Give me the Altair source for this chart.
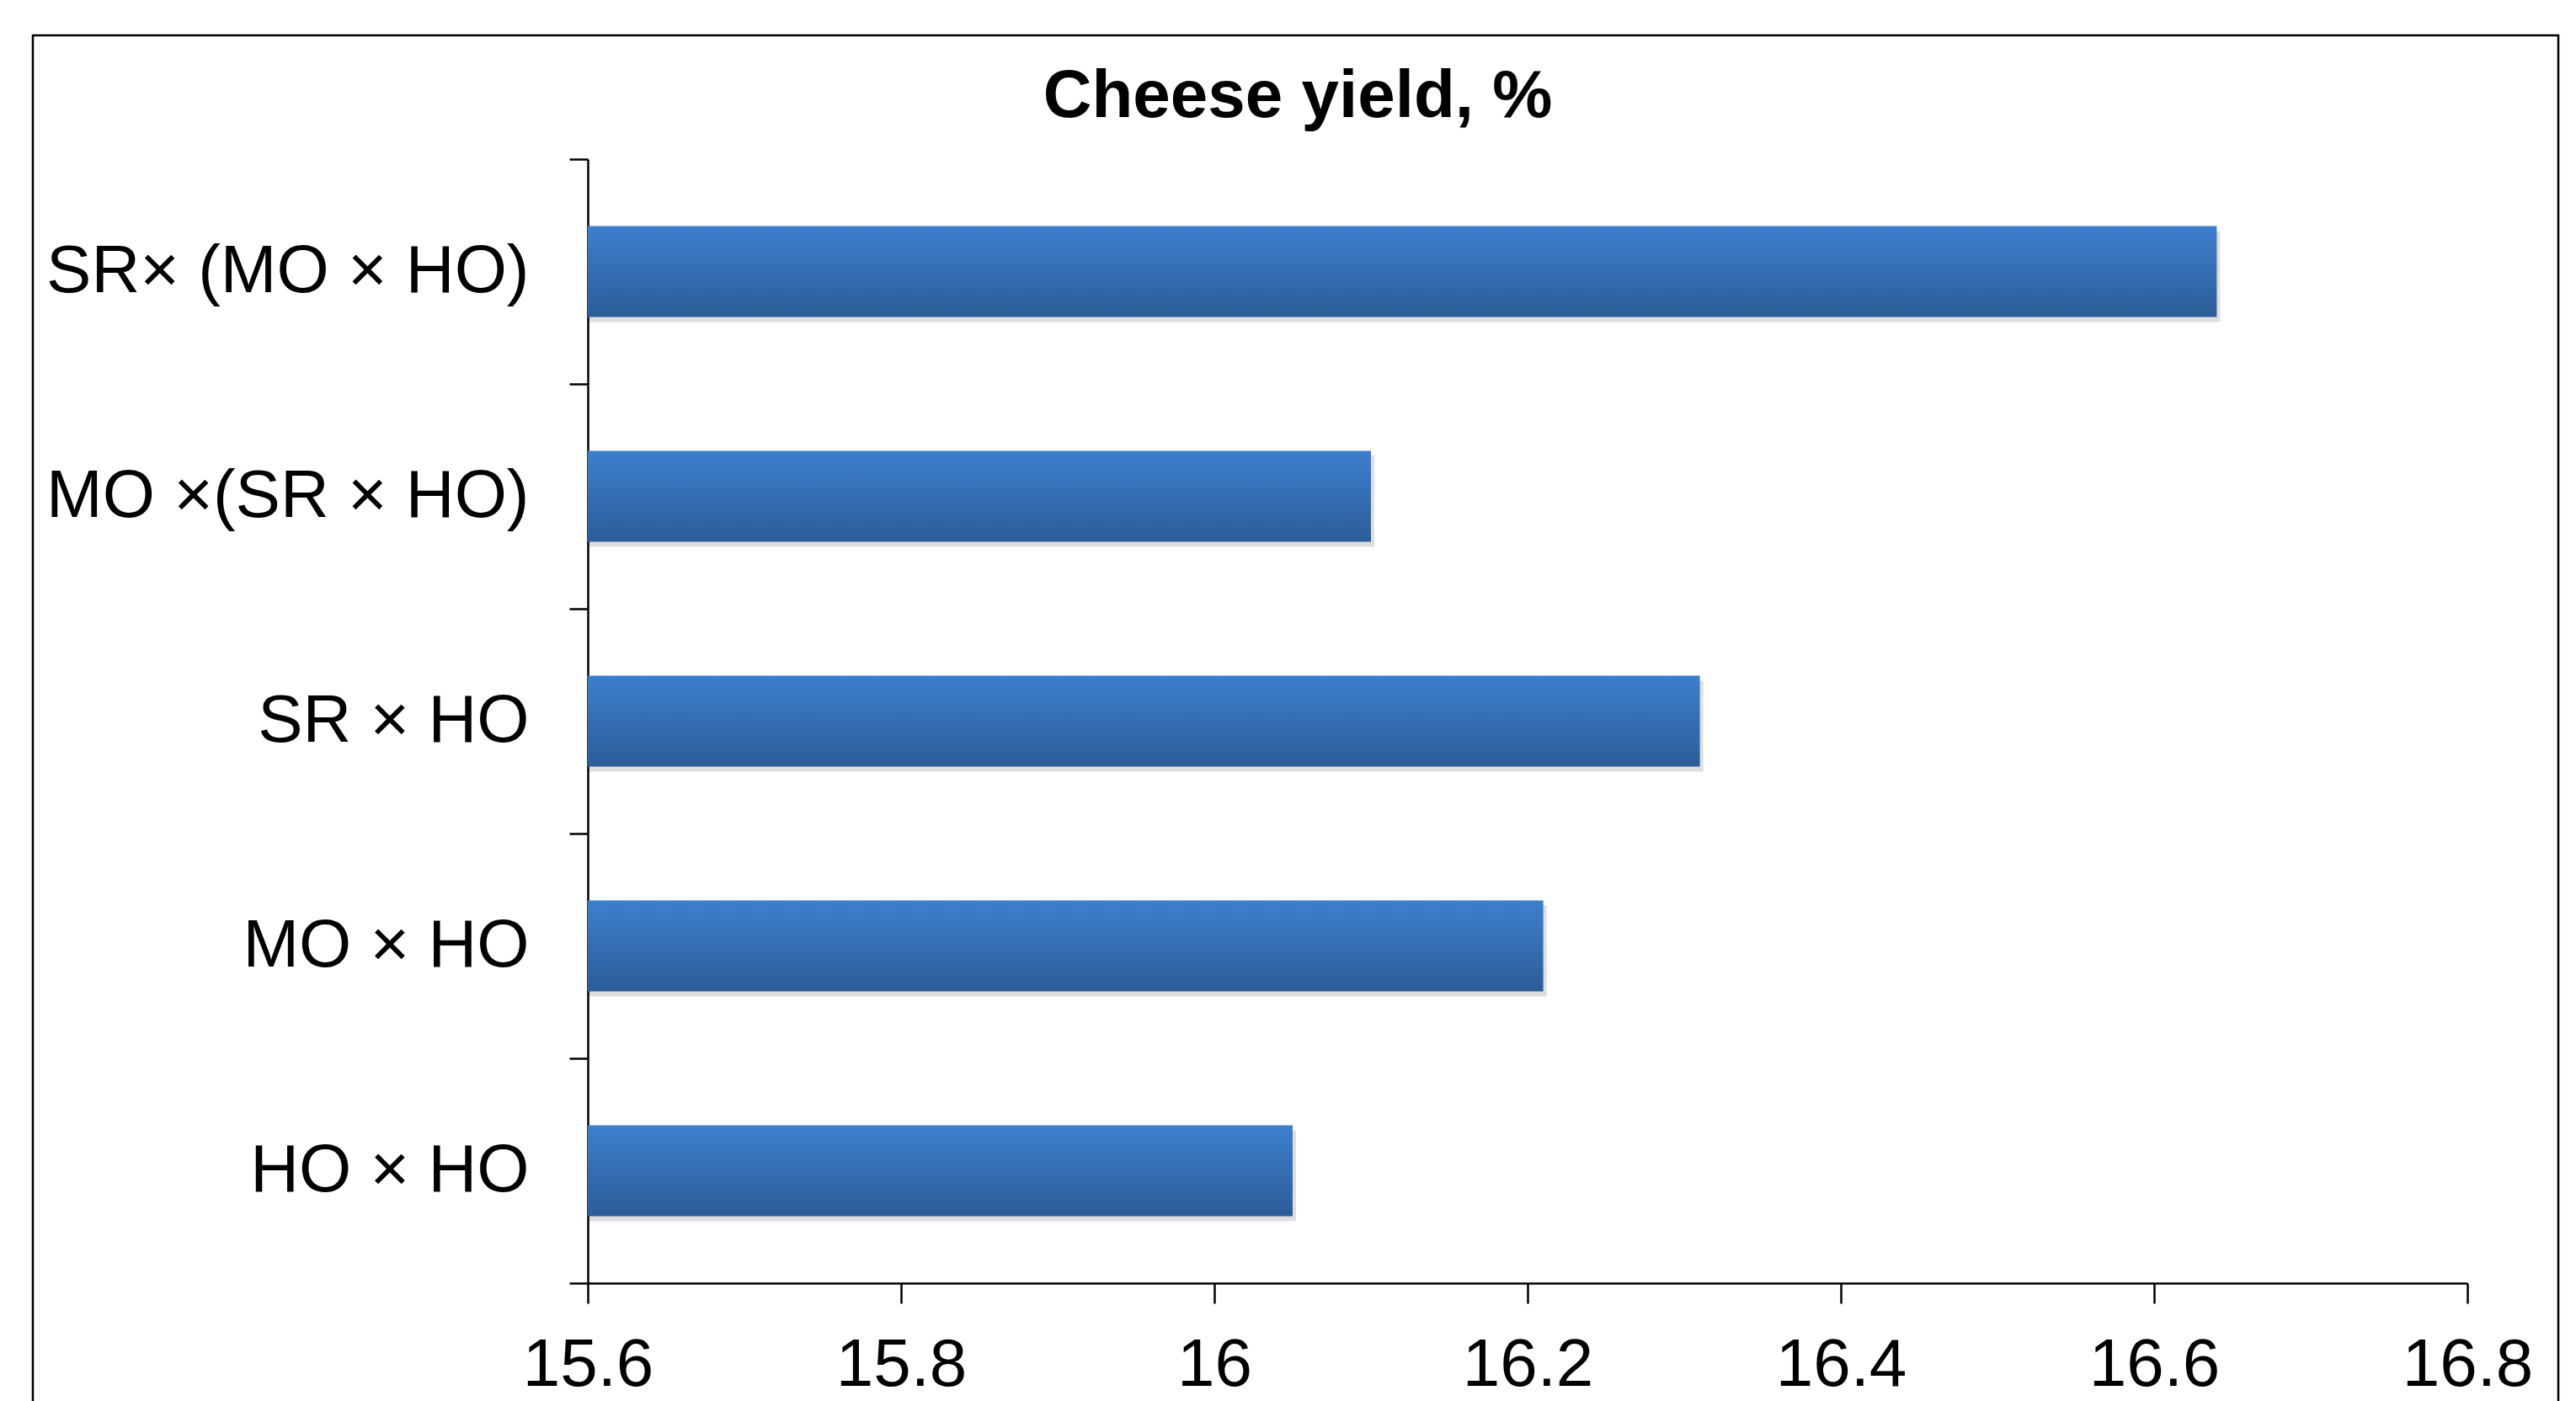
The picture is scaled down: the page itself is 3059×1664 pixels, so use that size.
import altair as alt
import pandas as pd

# ---- data ----
categories = ["SR× (MO × HO)", "MO ×(SR × HO)", "SR × HO", "MO × HO", "HO × HO"]
values = [16.64, 16.10, 16.31, 16.21, 16.05]
x_ticks = [15.6, 15.8, 16.0, 16.2, 16.4, 16.6, 16.8]
x_domain = [15.6, 16.8]
title_text = "Cheese yield, %"

df = pd.DataFrame({"cross": categories, "yield": values})

FONT = "Liberation Sans"

grad = alt.LinearGradient(
    gradient="linear",
    stops=[
        alt.GradientStop(color="#3d7fcd", offset=0),
        alt.GradientStop(color="#2c5c99", offset=1),
    ],
    x1=0, x2=0, y1=0, y2=1,
)

y_enc = alt.Y(
    "cross:N",
    sort=categories,
    scale=alt.Scale(paddingInner=0, paddingOuter=0),
    axis=alt.Axis(
        title=None,
        tickBand="extent",
        labelFont=FONT,
        labelFontSize=80,
        labelColor="black",
        labelPadding=48,
        labelLimit=0,
        tickSize=22,
        tickWidth=2.5,
        tickColor="black",
        domainColor="black",
        domainWidth=2.5,
        grid=False,
    ),
)

x_enc = alt.X(
    "yield:Q",
    scale=alt.Scale(domain=x_domain, nice=False, zero=False),
    axis=alt.Axis(
        title=None,
        values=x_ticks,
        format="~g",
        labelFont=FONT,
        labelFontSize=80,
        labelColor="black",
        labelPadding=34,
        labelFlush=False,
        tickSize=24,
        tickWidth=2.5,
        tickColor="black",
        domainColor="black",
        domainWidth=2.5,
        grid=False,
    ),
)

base = alt.Chart(df)

shadow = base.mark_bar(
    height=alt.RelativeBandSize(0.404),
    color="#000000",
    opacity=0.13,
    xOffset=4,
    yOffset=6,
    clip=True,
).encode(y=y_enc, x=x_enc)

bars = base.mark_bar(
    height=alt.RelativeBandSize(0.404),
    color=grad,
    clip=True,
).encode(y=y_enc, x=x_enc)

frame = alt.Chart(alt.Data(values=[{"f": 1}])).mark_rect(
    filled=False, stroke="black", strokeWidth=2.5
).encode(
    x=alt.value(-659), x2=alt.value(2340), y=alt.value(-147), y2=alt.value(1600)
)

chart = alt.layer(frame, shadow, bars).properties(
    width=2232,
    height=1335,
    autosize="none",
    padding={"left": 698, "top": 189, "right": 129, "bottom": 140},
    background="white",
    title=alt.Title(
        title_text,
        font=FONT,
        fontSize=80,
        fontWeight="bold",
        color="black",
        anchor="middle",
        frame="group",
        dx=-273,
        dy=229,
        offset=51,
        baseline="alphabetic",
    ),
).configure_view(stroke=None)

chart.save("out.html", embed_options={"renderer": "svg", "actions": False})
